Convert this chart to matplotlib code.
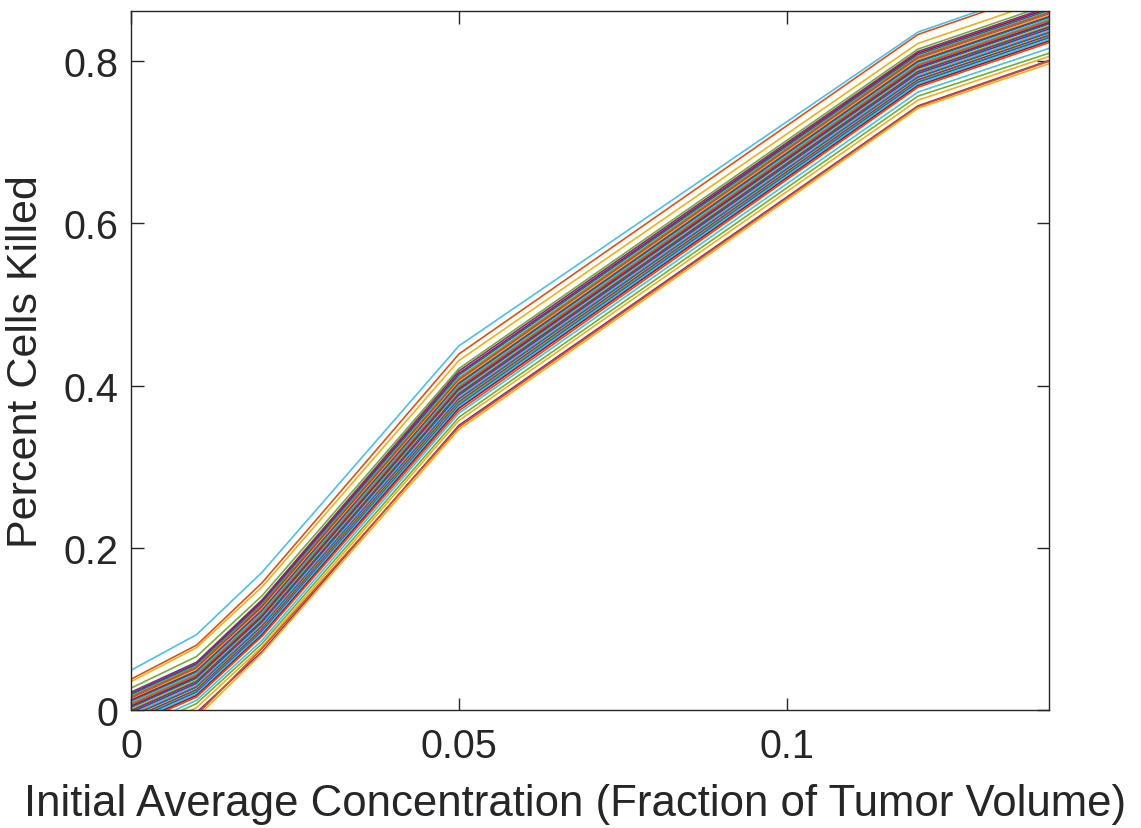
import matplotlib
matplotlib.use("Agg")
import matplotlib.pyplot as plt

plt.rcParams['font.family'] = ['Liberation Sans', 'DejaVu Sans']

# initial average concentration (fraction of tumor volume)
conc = [0.0, 0.01, 0.02, 0.05, 0.12, 0.14]

# percent cells killed for each simulation run, one array per concentration
kill_c000 = [0.049, 0.038, 0.035, 0.027, 0.022, 0.020, 0.019, 0.017, 0.016, 0.014,
             0.013, 0.012, 0.010, 0.009, 0.008, 0.007, 0.005, 0.004, 0.003, 0.001,
             0.000, -0.001, -0.003, -0.004, -0.005, -0.007, -0.008, -0.010, -0.011, -0.013,
             -0.014, -0.016, -0.018, -0.020, -0.025, -0.029, -0.034, -0.040, -0.043, -0.046]
kill_c001 = [0.093, 0.080, 0.077, 0.066, 0.059, 0.057, 0.056, 0.054, 0.053, 0.051,
             0.050, 0.048, 0.047, 0.045, 0.044, 0.043, 0.041, 0.040, 0.039, 0.037,
             0.036, 0.035, 0.033, 0.032, 0.031, 0.029, 0.028, 0.026, 0.025, 0.023,
             0.022, 0.020, 0.018, 0.016, 0.012, 0.008, 0.003, -0.003, -0.006, -0.009]
kill_c002 = [0.170, 0.157, 0.152, 0.141, 0.136, 0.134, 0.132, 0.130, 0.129, 0.127,
             0.125, 0.123, 0.122, 0.120, 0.119, 0.118, 0.116, 0.115, 0.114, 0.112,
             0.111, 0.110, 0.108, 0.107, 0.106, 0.104, 0.103, 0.101, 0.100, 0.098,
             0.097, 0.095, 0.093, 0.091, 0.086, 0.082, 0.078, 0.072, 0.076, 0.070]
kill_c005 = [0.449, 0.439, 0.431, 0.421, 0.418, 0.415, 0.413, 0.410, 0.408, 0.406,
             0.405, 0.403, 0.402, 0.400, 0.399, 0.398, 0.396, 0.395, 0.394, 0.392,
             0.391, 0.390, 0.388, 0.387, 0.386, 0.384, 0.383, 0.381, 0.380, 0.378,
             0.376, 0.374, 0.372, 0.369, 0.366, 0.361, 0.357, 0.351, 0.349, 0.346]
kill_c012 = [0.836, 0.833, 0.822, 0.815, 0.812, 0.810, 0.808, 0.806, 0.805, 0.803,
             0.802, 0.800, 0.799, 0.797, 0.796, 0.795, 0.793, 0.792, 0.791, 0.789,
             0.788, 0.787, 0.785, 0.784, 0.783, 0.781, 0.780, 0.778, 0.777, 0.775,
             0.774, 0.772, 0.770, 0.768, 0.762, 0.757, 0.752, 0.745, 0.744, 0.742]
kill_c014 = [0.892, 0.889, 0.877, 0.870, 0.867, 0.865, 0.863, 0.861, 0.860, 0.858,
             0.857, 0.855, 0.854, 0.852, 0.851, 0.850, 0.848, 0.847, 0.846, 0.844,
             0.843, 0.842, 0.840, 0.839, 0.838, 0.836, 0.835, 0.833, 0.832, 0.830,
             0.829, 0.827, 0.825, 0.823, 0.816, 0.810, 0.806, 0.801, 0.800, 0.797]

# MATLAB default colour order index for each run
run_color_idx = [5, 1, 2, 4, 3, 6, 0, 4, 1, 3,
                 2, 6, 0, 5, 4, 1, 3, 6, 0, 2,
                 4, 3, 0, 6, 5, 1, 0, 2, 3, 4,
                 0, 5, 6, 1, 5, 4, 2, 3, 1, 2]

matlab_colors = ['#0072BD', '#D95319', '#EDB120', '#7E2F8E',
                 '#77AC30', '#4DBEEE', '#A2142F']

fig = plt.figure(figsize=(11.41, 8.29), dpi=100)
ax = fig.add_axes([0.1148, 0.1423, 0.8046, 0.8432])

n_runs = len(kill_c000)
for i in range(n_runs):
    yv = [kill_c000[i], kill_c001[i], kill_c002[i], kill_c005[i], kill_c012[i], kill_c014[i]]
    ax.plot(conc, yv, color=matlab_colors[run_color_idx[i]], lw=1.2)

ax.set_xlim(0, 0.14)
ax.set_ylim(0, 0.862)
ax.set_xticks([0, 0.05, 0.1])
ax.set_xticklabels(['0', '0.05', '0.1'])
ax.set_yticks([0, 0.2, 0.4, 0.6, 0.8])
ax.set_yticklabels(['0', '0.2', '0.4', '0.6', '0.8'])

axis_col = '#262626'
for s in ax.spines.values():
    s.set_color(axis_col)
    s.set_linewidth(1.0)
ax.tick_params(direction='in', length=9, width=1.0, colors=axis_col,
               labelsize=28.5, top=True, right=True)
ax.tick_params(axis='y', pad=9)
ax.tick_params(axis='x', pad=12)
ax.set_xlabel('Initial Average Concentration (Fraction of Tumor Volume)',
              fontsize=31.5, color=axis_col)
ax.xaxis.set_label_coords(0.4837, -0.105)
ax.set_ylabel('Percent Cells Killed', fontsize=31, color=axis_col)
ax.yaxis.set_label_coords(-0.093, 0.5)

fig.savefig('out.png', dpi=100)
